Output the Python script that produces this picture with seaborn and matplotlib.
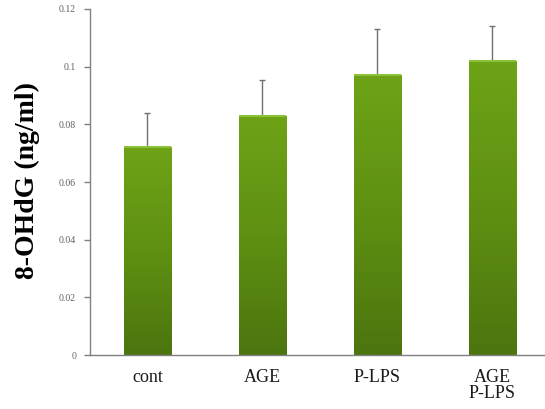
import matplotlib
matplotlib.use("Agg")
import matplotlib.pyplot as plt
import seaborn as sns
import numpy as np
import pandas as pd
from matplotlib.colors import LinearSegmentedColormap

categories = ["cont", "AGE", "P-LPS", "AGE\nP-LPS"]
values = [0.072, 0.083, 0.097, 0.102]
errors = [0.012, 0.0124, 0.016, 0.012]
yticks = [0, 0.02, 0.04, 0.06, 0.08, 0.1, 0.12]
ytick_labels = ["0", "0.02", "0.04", "0.06", "0.08", "0.1", "0.12"]

sns.set_theme(style="white")
plt.rcParams['font.family'] = ['Liberation Serif', 'DejaVu Serif']

df = pd.DataFrame({"group": categories, "value": values})

fig = plt.figure(figsize=(5.45, 4.09), dpi=100)
ax = fig.add_axes([0.165, 0.132, 0.835, 0.846])

sns.barplot(data=df, x="group", y="value", color="#5e8c14", width=0.41,
            ax=ax, errorbar=None, saturation=1, edgecolor="none")

ax.set_xlim(-0.5, 3.46)
ax.set_ylim(0, 0.12)

# gradient fill clipped to each bar
cmap = LinearSegmentedColormap.from_list("g", ["#4c750f", "#5f9012", "#6ea317"])
grad = np.linspace(0, 1, 256).reshape(-1, 1)
for p in ax.patches:
    x0, y0 = p.get_x(), p.get_y()
    w, h = p.get_width(), p.get_height()
    im = ax.imshow(grad, extent=[x0, x0 + w, y0, y0 + h], origin="lower",
                   cmap=cmap, aspect="auto", zorder=2)
    im.set_clip_path(p)
    ax.plot([x0, x0 + w], [y0 + h, y0 + h], color="#8cc23a", lw=1.5, zorder=3,
            solid_capstyle="butt")

xpos = np.arange(len(categories))
ax.errorbar(xpos, values, yerr=[np.zeros(len(errors)), errors], fmt="none",
            ecolor="#707070", elinewidth=1.0, capsize=2, capthick=1.0, zorder=1)

ax.set_yticks(yticks)
ax.set_yticklabels(ytick_labels)
ax.tick_params(axis="y", which="both", left=True, direction="out", length=4,
               width=1, color="#808080", labelsize=7, labelcolor="#606060", pad=6)
ax.tick_params(axis="x", bottom=False, labelsize=13, labelcolor="#1a1a1a", pad=4)
for lbl in ax.get_xticklabels():
    lbl.set_linespacing(0.95)

for s in ["top", "right"]:
    ax.spines[s].set_visible(False)
for s in ["left", "bottom"]:
    ax.spines[s].set_color("#808080")
    ax.spines[s].set_linewidth(1.0)

ax.set_xlabel("")
ax.set_ylabel("8-OHdG (ng/ml)", fontsize=20, fontweight="bold", color="black",
              labelpad=12)
ax.yaxis.set_label_coords(-0.11, 0.505)

fig.savefig("out.png", dpi=100)
